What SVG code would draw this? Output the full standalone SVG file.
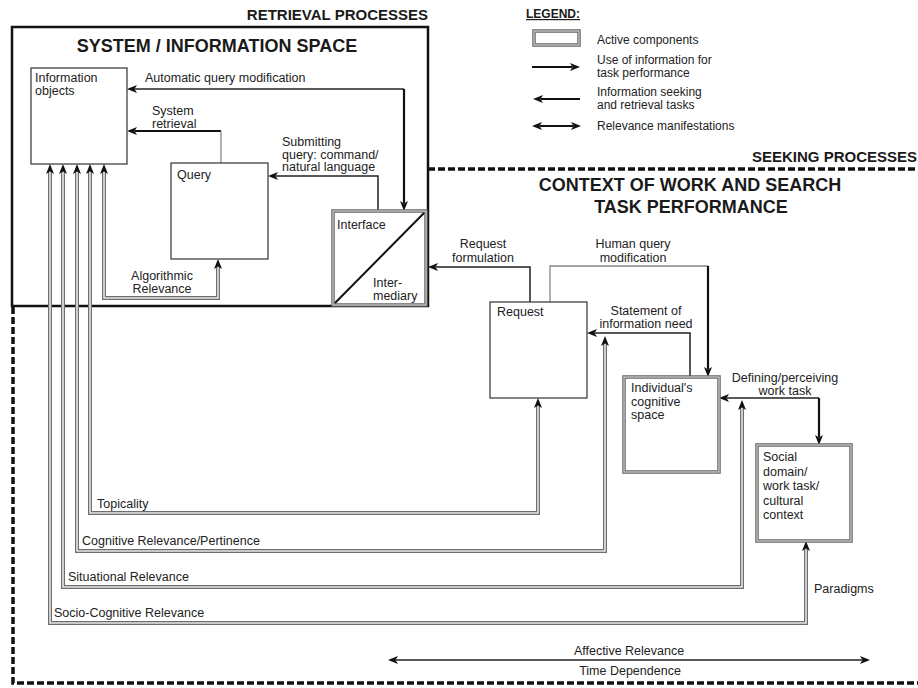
<svg xmlns="http://www.w3.org/2000/svg" width="918" height="688" viewBox="0 0 918 688">
<style>
text{font-family:"Liberation Sans",Arial,sans-serif;font-size:12.5px;fill:#222}
.b{font-weight:bold;fill:#1a1a1a}
.m{text-anchor:middle}
.lg{font-size:12px}
.box{fill:#fff;stroke:#333;stroke-width:1.2}
.act{fill:#fff;stroke:#666;stroke-width:3.5}
.actin{fill:none;stroke:#d0d0d0;stroke-width:1.2}
.ln{fill:none;stroke:#222;stroke-width:1.5}
.thk{fill:none;stroke:#111;stroke-width:2.2}
.gr{fill:none;stroke:#888;stroke-width:1.3}
.rel{fill:none;stroke:#6e6e6e;stroke-width:4}
.relin{fill:none;stroke:#e6e6e6;stroke-width:1.6}
.dash{fill:none;stroke:#111;stroke-width:3.5;stroke-dasharray:7 3}
</style>
<defs>
<marker id="ah" viewBox="0 0 10 8" markerWidth="10" markerHeight="8" markerUnits="userSpaceOnUse" refX="2" refY="4" orient="auto-start-reverse">
<path d="M0,0 L10,4 L0,8 L2.5,4 z" fill="#111"/>
</marker>
</defs>

<!-- frames -->
<g id="system-space">
<rect x="12" y="27" width="416" height="279" fill="none" stroke="#111" stroke-width="2.5"/>
<text class="b" x="428" y="20" text-anchor="end" style="font-size:15px">RETRIEVAL PROCESSES</text>
<text class="b m" x="217" y="52" style="font-size:18px">SYSTEM / INFORMATION SPACE</text>
</g>
<g id="context-space">
<path class="dash" d="M428,169 H918 M13,307 V683 H918"/>
<text class="b" x="752" y="162" style="font-size:15px">SEEKING PROCESSES</text>
<text class="b m" x="690" y="191" style="font-size:18px">CONTEXT OF WORK AND SEARCH</text>
<text class="b m" x="691" y="213" style="font-size:18px">TASK PERFORMANCE</text>
</g>

<!-- legend -->
<g id="legend">
<text class="b" x="526" y="18" style="font-size:12px;text-decoration:underline">LEGEND:</text>
<rect class="act" x="534" y="31" width="45" height="14"/>
<rect class="actin" x="534" y="31" width="45" height="14"/>
<text class="lg" x="597" y="44">Active components</text>
<path class="thk" d="M532,67 H572" marker-end="url(#ah)"/>
<text class="lg" x="597" y="63.5">Use of information for</text>
<text class="lg" x="597" y="77">task performance</text>
<path class="thk" d="M580,99 H541" marker-end="url(#ah)"/>
<text class="lg" x="597" y="95.5">Information seeking</text>
<text class="lg" x="597" y="109">and retrieval tasks</text>
<path class="thk" d="M540,126 H573" marker-start="url(#ah)" marker-end="url(#ah)"/>
<text class="lg" x="597" y="130">Relevance manifestations</text>
</g>

<!-- connectors -->
<g id="connectors">
<path class="ln" d="M404,89 H135" marker-end="url(#ah)"/>
<path class="thk" d="M404,89 V203" marker-end="url(#ah)"/>
<path class="thk" d="M221,131 H135" marker-end="url(#ah)"/>
<path class="gr" d="M221,131 V163"/>
<path class="ln" d="M378,211 V176 H276" marker-end="url(#ah)"/>
<path class="ln" d="M530,302 V267 H436" marker-end="url(#ah)"/>
<path class="gr" d="M550,302 V266 H708"/>
<path class="thk" d="M708,266 V369" marker-end="url(#ah)"/>
<path class="ln" d="M690,377 V333 H595" marker-end="url(#ah)"/>
<path class="ln" d="M819,398 H727" marker-end="url(#ah)"/>
<path class="thk" d="M819,398 V437" marker-end="url(#ah)"/>

<path class="rel" d="M104,172 V298 H218 V267"/>
<path class="relin" d="M104,172 V298 H218 V267"/>
<path fill="none" stroke="none" d="M104,172 V298 H218 V267" marker-start="url(#ah)" marker-end="url(#ah)"/>

<path class="rel" d="M90,172 V513 H538 V406"/>
<path class="relin" d="M90,172 V513 H538 V406"/>
<path fill="none" stroke="none" d="M90,172 V513 H538 V406" marker-start="url(#ah)" marker-end="url(#ah)"/>

<path class="rel" d="M77,172 V551 H605 V344"/>
<path class="relin" d="M77,172 V551 H605 V344"/>
<path fill="none" stroke="none" d="M77,172 V551 H605 V344" marker-start="url(#ah)" marker-end="url(#ah)"/>

<path class="rel" d="M63,172 V587 H742 V408"/>
<path class="relin" d="M63,172 V587 H742 V408"/>
<path fill="none" stroke="none" d="M63,172 V587 H742 V408" marker-start="url(#ah)" marker-end="url(#ah)"/>

<path class="rel" d="M50,172 V623 H806 V549"/>
<path class="relin" d="M50,172 V623 H806 V549"/>
<path fill="none" stroke="none" d="M50,172 V623 H806 V549" marker-start="url(#ah)" marker-end="url(#ah)"/>

<path fill="none" stroke="#222" stroke-width="1.3" d="M396,660 H862" marker-start="url(#ah)" marker-end="url(#ah)"/>
</g>

<!-- connector labels -->
<g id="labels">
<text x="145" y="82">Automatic query modification</text>
<text x="152" y="115">System</text>
<text x="152" y="128">retrieval</text>
<text x="282" y="146">Submitting</text>
<text x="282" y="158.5">query: command/</text>
<text x="282" y="171">natural language</text>
<text class="m" x="162" y="280">Algorithmic</text>
<text class="m" x="162" y="293">Relevance</text>
<text class="m" x="483" y="248">Request</text>
<text class="m" x="483" y="262">formulation</text>
<text class="m" x="633" y="248">Human query</text>
<text class="m" x="633" y="262">modification</text>
<text class="m" x="646" y="315">Statement of</text>
<text class="m" x="646" y="328">information need</text>
<text class="m" x="785" y="382">Defining/perceiving</text>
<text class="m" x="785" y="395">work task</text>
<text x="814" y="593">Paradigms</text>
<text x="97" y="508">Topicality</text>
<text x="82" y="545">Cognitive Relevance/Pertinence</text>
<text x="68" y="581">Situational Relevance</text>
<text x="54" y="617">Socio-Cognitive Relevance</text>
<text class="m" x="629" y="655">Affective Relevance</text>
<text class="m" x="630" y="675">Time Dependence</text>
</g>

<!-- nodes -->
<g id="information-objects">
<rect class="box" x="31" y="68" width="96" height="96"/>
<text x="35" y="82">Information</text>
<text x="35" y="95">objects</text>
</g>
<g id="query">
<rect class="box" x="171" y="163" width="97" height="96"/>
<text x="177" y="179">Query</text>
</g>
<g id="interface">
<rect class="act" x="333" y="211" width="93" height="94"/>
<rect class="actin" x="333" y="211" width="93" height="94"/>
<path d="M335,303 L424,213" stroke="#111" stroke-width="2" fill="none"/>
<text x="337" y="229">Interface</text>
<text x="373" y="287">Inter-</text>
<text x="373" y="300">mediary</text>
</g>
<g id="request">
<rect class="box" x="490" y="302" width="97" height="96"/>
<text x="497" y="316">Request</text>
</g>
<g id="individual">
<rect class="act" x="624" y="377" width="95" height="95"/>
<rect class="actin" x="624" y="377" width="95" height="95"/>
<text x="631" y="392">Individual's</text>
<text x="631" y="405.5">cognitive</text>
<text x="631" y="419">space</text>
</g>
<g id="social">
<rect class="act" x="757" y="445" width="94" height="96"/>
<rect class="actin" x="757" y="445" width="94" height="96"/>
<text x="763" y="461">Social</text>
<text x="763" y="475.5">domain/</text>
<text x="763" y="490">work task/</text>
<text x="763" y="504.5">cultural</text>
<text x="763" y="519">context</text>
</g>
</svg>
